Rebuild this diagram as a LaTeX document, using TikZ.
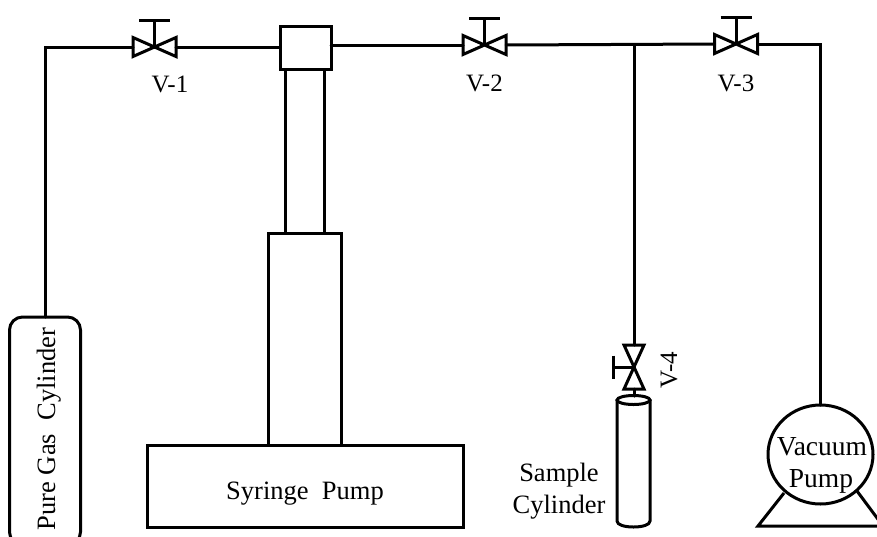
\documentclass[tikz,border=0pt]{standalone}
\usepackage{fontspec}
\usetikzlibrary{shapes.geometric}
\setmainfont{Liberation Serif}
\tikzset{
  x=1pt,y=-1pt,
  pipe/.style={draw=black,line width=3pt,line cap=round},
  part/.style={draw=black,line width=3pt,inner sep=0pt,outer sep=0pt,minimum width=0pt},
  lbl/.style={inner sep=0pt,anchor=base,font=\fontsize{25}{28}\selectfont,text=black,align=center},
  bigl/.style={lbl,font=\fontsize{26.5}{28}\selectfont},
  pumpl/.style={lbl,font=\fontsize{27.5}{28}\selectfont},
  pics/hvalve/.style={code={
    \draw[pipe,line join=miter] (-21.5,-9.5) -- (21.5,9.5) -- (21.5,-9.5) -- (-21.5,9.5) -- cycle;
    \draw[pipe,line cap=butt] (0,0) -- (0,-27);
    \draw[pipe,line cap=butt] (-15.5,-27) -- (15.5,-27);
    \coordinate (-left) at (-21.5,0);
    \coordinate (-right) at (21.5,0);
  }},
  pics/vvalve/.style={code={
    \draw[pipe,line join=miter] (-10,-22) -- (10,22) -- (-10,22) -- (10,-22) -- cycle;
    \draw[pipe,line cap=butt] (0,0) -- (-21,0);
    \draw[pipe,line cap=butt] (-21,-11.5) -- (-21,11.5);
    \coordinate (-top) at (0,-22);
    \coordinate (-bot) at (0,22);
  }}
}
\begin{document}
\begin{tikzpicture}
\useasboundingbox (0,0) rectangle (877,536);
\clip (0,0) rectangle (877,536);
% nodes
\node[part,rounded corners=13pt,minimum width=71pt,minimum height=228pt,anchor=north west] (gas) at (9.5,317) {};
\node[part,minimum width=51pt,minimum height=43pt,anchor=north west] (head) at (280,26) {};
\node[part,minimum width=39pt,minimum height=164pt,anchor=north west] (tube) at (285,69) {};
\node[part,minimum width=73pt,minimum height=212pt,anchor=north west] (barrel) at (268,233) {};
\node[part,minimum width=316pt,minimum height=82pt,anchor=north west] (base) at (147,445) {};
\node[bigl] (syr) at (305,499) {Syringe\ \ Pump};
\node[bigl,rotate=90] (gastxt) at (55,429) {Pure Gas\ \ Cylinder};
\node[lbl] (v1t) at (170,92) {V-1};
\node[lbl] (v2t) at (484.5,91) {V-2};
\node[lbl] (v3t) at (736,91) {V-3};
\node[lbl,rotate=90] (v4t) at (677,370) {V-4};
\node[bigl] (s1) at (559,481) {Sample};
\node[bigl] (s2) at (559,513) {Cylinder};
% vacuum pump
\coordinate (legl) at (758,526);
\coordinate (legr) at (883,526);
\coordinate (legla) at (784,493);
\coordinate (legra) at (857,491);
\draw[pipe,line cap=butt,line join=miter] (legla) -- (legl) -- (legr) -- (legra);
\node[part,ellipse,minimum width=105pt,minimum height=99pt,fill=white] (vac) at (820.5,454.5) {};
\node[pumpl] (vt1) at (822,455) {Vacuum};
\node[pumpl] (vt2) at (821,487) {Pump};
% valves
\pic (v1) at (154.5,47) {hvalve};
\pic (v2) at (484.5,45) {hvalve};
\pic (v3) at (736,44) {hvalve};
\pic (v4) at (634,367) {vvalve};
% cylinder
\coordinate (ct) at (633.5,400);
\coordinate (cneck) at (634,396);
\draw[part,fill=white] (617,400) -- (617,521) .. controls (617,525) and (625,527) .. (633.5,527) .. controls (642,527) and (650,525) .. (650,521) -- (650,400);
\draw[part,fill=white] (ct) ellipse [x radius=16.5,y radius=4.5];
% pipes
\coordinate (c1) at (45.5,47);
\coordinate (c2) at (820.5,44);
\coordinate (j) at (634,44.5);
\draw[pipe,line join=miter] (gas.north -| c1) -- (c1) -- (v1-left);
\draw[pipe] (v1-right) -- (head.west |- v1-right);
\draw[pipe] (head.east |- v2-left) -- (v2-left);
\draw[pipe] (v2-right) -- (v3-left);
\draw[pipe,line join=miter] (v3-right) -- (c2) -- (vac.north);
\draw[pipe] (j) -- (v4-top);
\draw[pipe] (v4-bot) -- (cneck);
\end{tikzpicture}
\end{document}
